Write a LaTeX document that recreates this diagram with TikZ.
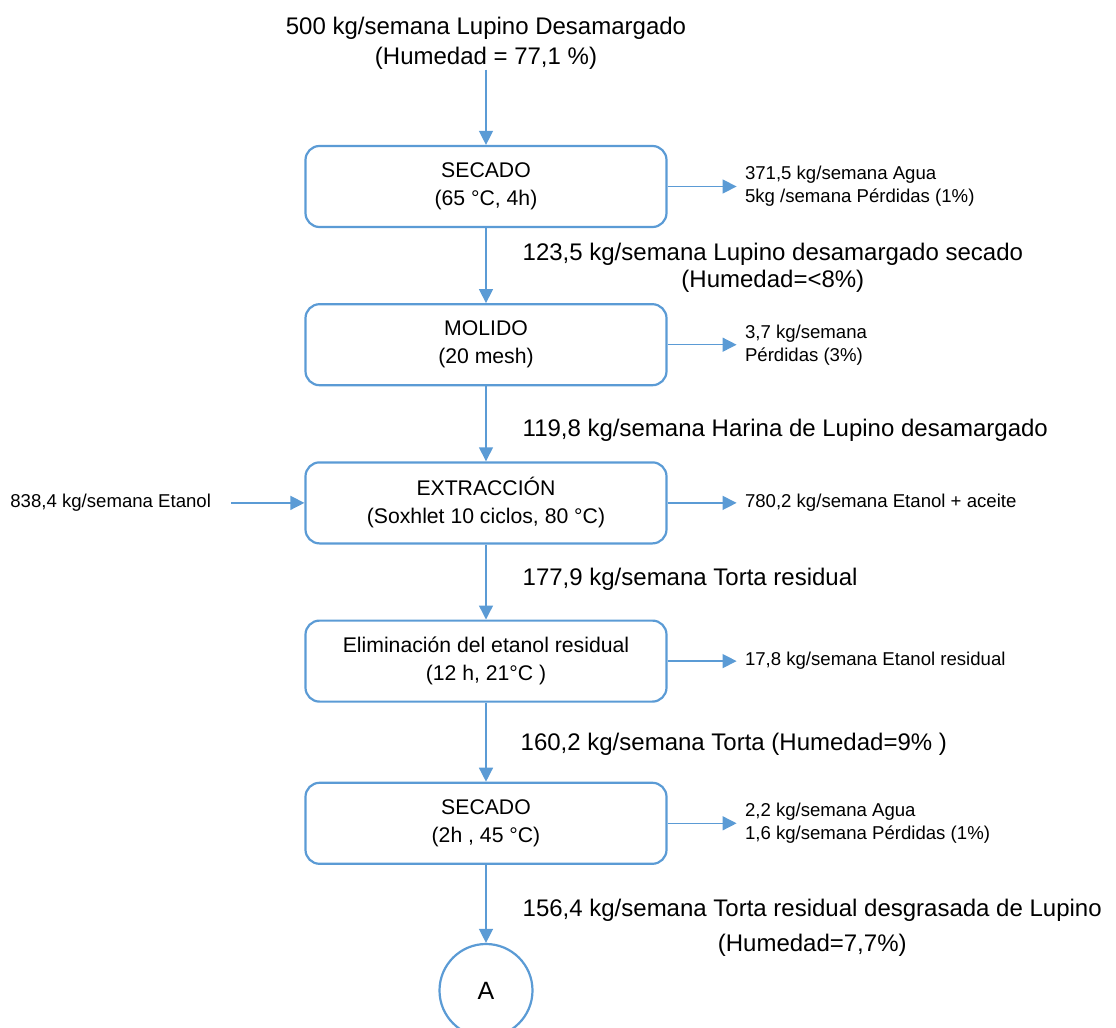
\documentclass[tikz,border=0pt]{standalone}
\usepackage{fontspec}
\setmainfont{Liberation Sans}
\usepackage{xcolor}
\usetikzlibrary{arrows.meta,positioning}
\definecolor{flowblue}{RGB}{91,155,213}

\begin{document}
\begin{tikzpicture}[
  node distance=37.5pt,
  proc/.style={draw=flowblue, line width=1.1pt, rounded corners=7pt, align=center, minimum width=180.5pt, minimum height=40.5pt, font=\fontsize{10.6}{14}\selectfont},
  side/.style={align=left, inner sep=4pt, font=\fontsize{9.3}{11.5}\selectfont},
  flow/.style={align=center, inner sep=0pt, font=\fontsize{12}{13.5}\selectfont},
  arrow/.style={-{Triangle[length=7pt,width=7pt]}, draw=flowblue, line width=.7pt}
]
\useasboundingbox (0,0) rectangle (558pt,-514pt);
% process chain
\node[proc] (secado1) at (243pt,-93.25pt) {SECADO\\(65 °C, 4h)};
\node[proc, below=of secado1] (molido) {MOLIDO\\(20 mesh)};
\node[proc, below=of molido] (extrac) {EXTRACCIÓN\\(Soxhlet 10 ciclos, 80 °C)};
\node[proc, below=of extrac] (elim) {Eliminación del etanol residual\\(12 h, 21°C )};
\node[proc, below=39.5pt of elim] (secado2) {SECADO\\(2h , 45 °C)};
\node[draw=flowblue, line width=1.1pt, circle, minimum size=46.5pt, font=\fontsize{12.5}{14}\selectfont, below=39pt of secado2] (conA) {A};
% feed
\node[flow, font=\fontsize{12}{15}\selectfont] (lupino) at (243pt,-21.5pt) {500 kg/semana Lupino Desamargado\\(Humedad = 77,1 \%)};
\node[side, inner sep=10pt, left=36.5pt of extrac] (etanol) {838,4 kg/semana Etanol};
% outputs
\node[side, right=34.5pt of secado1] (agua1) {371,5 kg/semana Agua\\5kg /semana Pérdidas (1\%)};
\node[side, right=34.5pt of molido] (perd) {3,7 kg/semana\\Pérdidas (3\%)};
\node[side, right=34.5pt of extrac] (aceite) {780,2 kg/semana Etanol + aceite};
\node[side, right=34.5pt of elim] (etres) {17,8 kg/semana Etanol residual};
\node[side, right=34.5pt of secado2] (agua2) {2,2 kg/semana Agua\\1,6 kg/semana Pérdidas (1\%)};
% main flow
\draw[arrow] (lupino) -- (secado1);
\draw[arrow] (secado1) -- node[flow, right=18pt, pos=.53] {123,5 kg/semana Lupino desamargado secado\\(Humedad=<8\%)} (molido);
\draw[arrow] (molido) -- node[flow, right=18pt, pos=.58] {119,8 kg/semana Harina de Lupino desamargado} (extrac);
\draw[arrow] (extrac) -- node[flow, right=18pt, pos=.47] {177,9 kg/semana Torta residual} (elim);
\draw[arrow] (elim) -- node[flow, right=17pt, pos=.53] {160,2 kg/semana Torta (Humedad=9\% )} (secado2);
\draw[arrow] (secado2) -- node[flow, right=18pt, pos=.8] {156,4 kg/semana Torta residual desgrasada de Lupino\\[4pt](Humedad=7,7\%)} (conA);
% side streams
\draw[arrow] (etanol) -- (extrac);
\draw[arrow] (secado1) -- (agua1);
\draw[arrow] (molido) -- (perd);
\draw[arrow] (extrac) -- (aceite);
\draw[arrow] (elim) -- (etres);
\draw[arrow] (secado2) -- (agua2);
\end{tikzpicture}
\end{document}
